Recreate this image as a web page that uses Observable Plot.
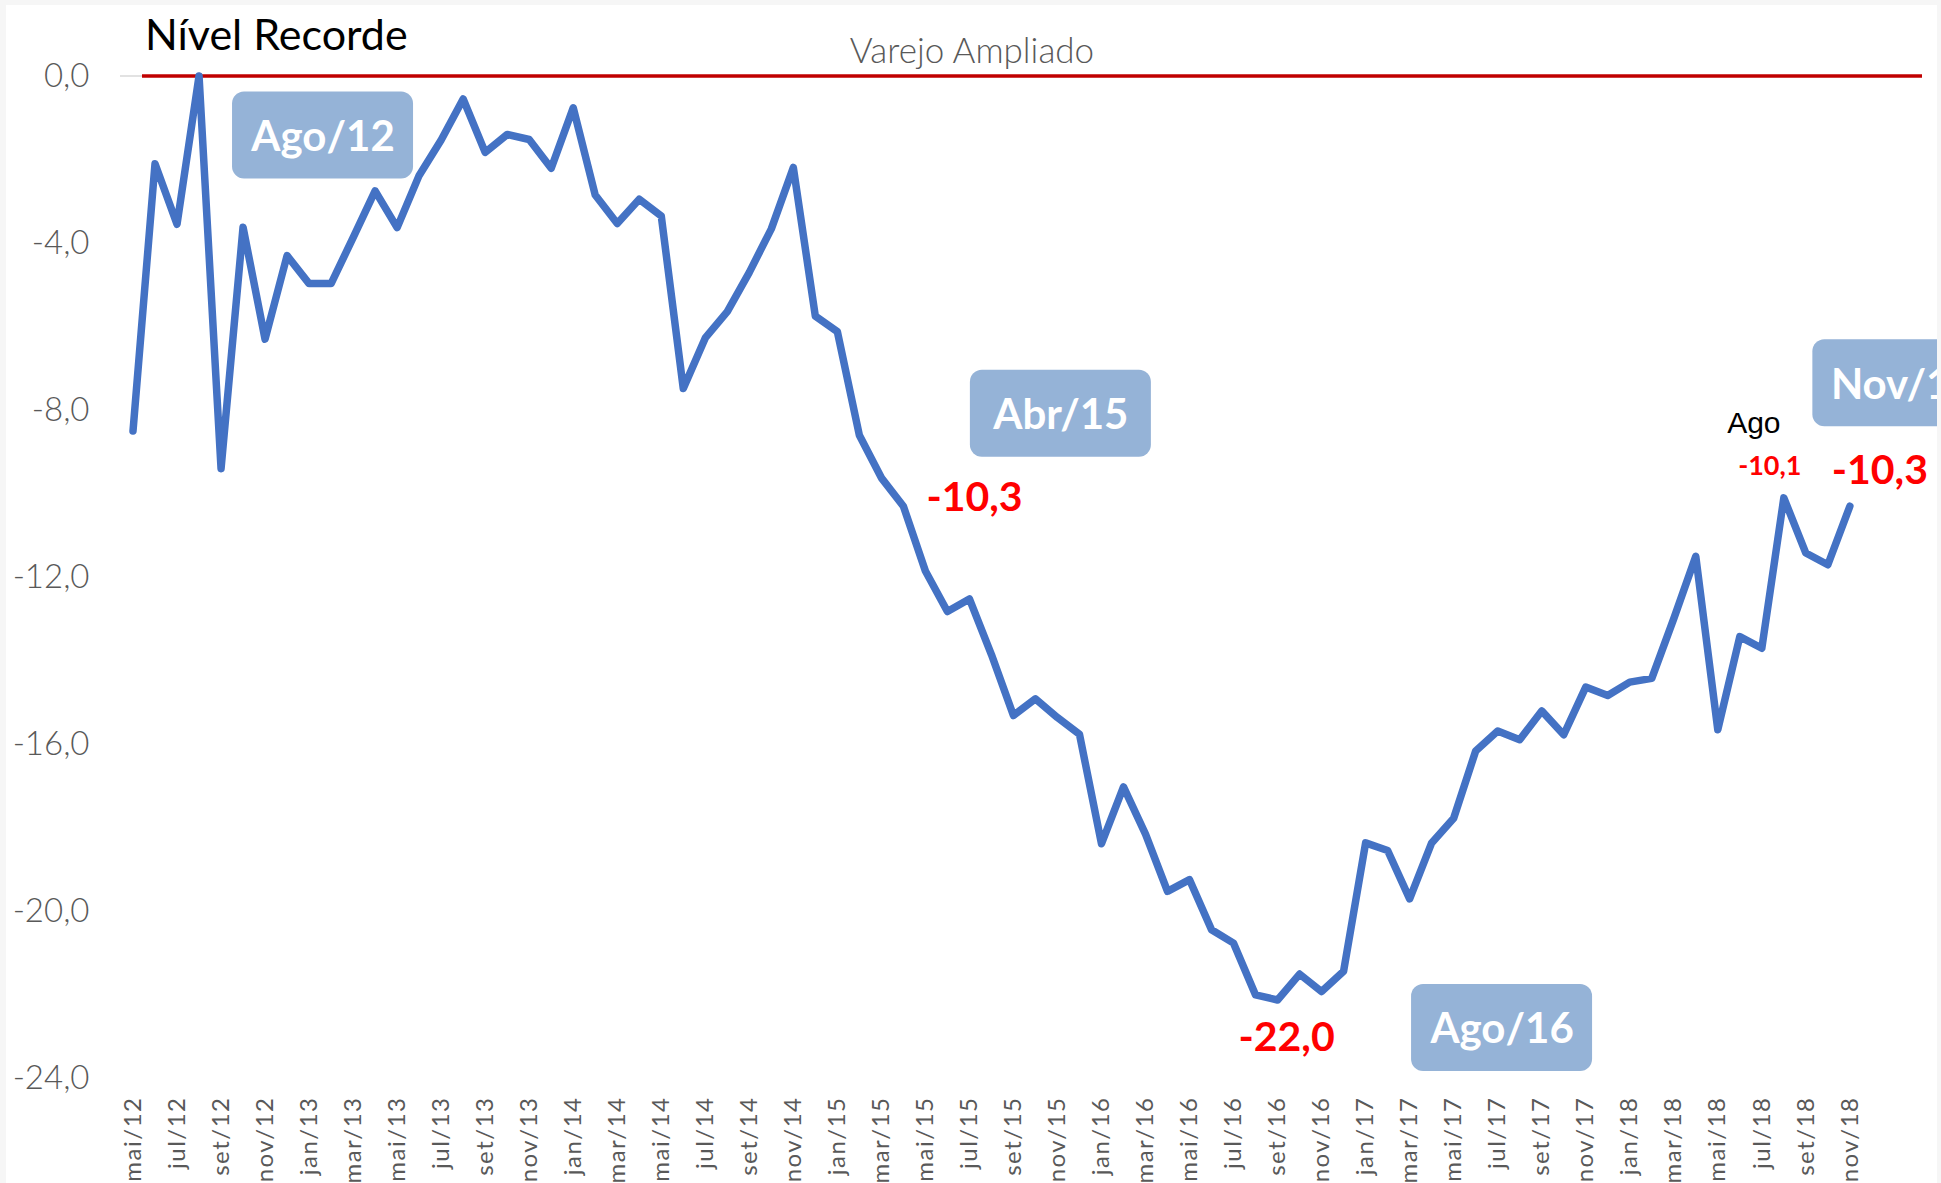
<!DOCTYPE html>
<html>
<head>
<meta charset="utf-8">
<script src="https://cdn.jsdelivr.net/npm/d3@7"></script>
<script src="https://cdn.jsdelivr.net/npm/@observablehq/plot@0.6"></script>
<style>
  html, body { margin: 0; padding: 0; background: #f6f6f6; }
  #chart { position: absolute; left: 6px; top: 5px; width: 1931px; height: 1178px; background: #fff; overflow: hidden; }
  #chart svg { display: block; }
</style>
</head>
<body>
<div id="chart"></div>
<script>
// ---- DATA ----
const months = [
  "mai/12","jun/12","jul/12","ago/12","set/12","out/12","nov/12","dez/12",
  "jan/13","fev/13","mar/13","abr/13","mai/13","jun/13","jul/13","ago/13","set/13","out/13","nov/13","dez/13",
  "jan/14","fev/14","mar/14","abr/14","mai/14","jun/14","jul/14","ago/14","set/14","out/14","nov/14","dez/14",
  "jan/15","fev/15","mar/15","abr/15","mai/15","jun/15","jul/15","ago/15","set/15","out/15","nov/15","dez/15",
  "jan/16","fev/16","mar/16","abr/16","mai/16","jun/16","jul/16","ago/16","set/16","out/16","nov/16","dez/16",
  "jan/17","fev/17","mar/17","abr/17","mai/17","jun/17","jul/17","ago/17","set/17","out/17","nov/17","dez/17",
  "jan/18","fev/18","mar/18","abr/18","mai/18","jun/18","jul/18","ago/18","set/18","out/18","nov/18"
];
const values = [
  -8.5, -2.1, -3.55, 0.0, -9.4, -3.62, -6.3, -4.3,
  -4.97, -4.97, -3.87, -2.75, -3.63, -2.38, -1.53, -0.55, -1.83, -1.4, -1.52, -2.21,
  -0.76, -2.85, -3.53, -2.95, -3.35, -7.48, -6.27, -5.64, -4.7, -3.66, -2.19, -5.75,
  -6.12, -8.6, -9.62, -10.3, -11.85, -12.82, -12.52, -13.85, -15.31, -14.91, -15.36, -15.76,
  -18.38, -17.02, -18.15, -19.52, -19.24, -20.44, -20.76, -22.0, -22.12, -21.5, -21.92, -21.43,
  -18.36, -18.54, -19.7, -18.36, -17.77, -16.16, -15.68, -15.89, -15.2, -15.77, -14.63, -14.83,
  -14.51, -14.42, -12.99, -11.5, -15.65, -13.42, -13.7, -10.1, -11.42, -11.7, -10.3
];
const xTickLabels = months.filter((m, i) => i % 2 === 0);
const yTicks = [0, -4, -8, -12, -16, -20, -24];
const title = "Nível Recorde";
const seriesName = "Varejo Ampliado";
const calloutMonths = ["ago/12", "abr/15", "ago/16", "nov/18"];
const valueLabelMonths = ["abr/15", "ago/16", "ago/18", "nov/18"];

// ---- BUILD ----
const data = months.map((m, i) => ({i, m, v: values[i]}));
const fmt = v => v.toFixed(1).replace(".", ",");
const cap = s => s[0].toUpperCase() + s.slice(1);
const at = m => data.filter(d => d.m === m);

const W = 1931, H = 1178;
const BLUE = "#4472C4", RED = "#FF0000", BOX = "#95B3D7";

function callout(month, dx, dy) {
  return Plot.text(at(month), {
    x: "i", y: "v", text: d => cap(d.m), dx, dy,
    fill: "white", fontWeight: "bold", fontSize: 42, textAnchor: "middle",
    fontFamily: "Lato, sans-serif", ariaLabel: () => "callout"
  });
}
function valueLabel(month, dx, dy, size, anchor = "middle") {
  return Plot.text(at(month), {
    x: "i", y: "v", text: d => fmt(d.v), dx, dy,
    fill: RED, fontWeight: "bold", fontSize: size, textAnchor: anchor,
    fontFamily: "Lato, sans-serif"
  });
}

const plot = Plot.plot({
  width: W, height: H,
  marginLeft: 114, marginRight: 15, marginTop: 70.5, marginBottom: 105,
  style: {background: "transparent", fontFamily: "Lato, sans-serif"},
  x: {
    type: "linear", domain: [-0.568, 81.30],
    ticks: xTickLabels.map(m => months.indexOf(m)),
    tickFormat: i => months[i], tickRotate: -90, tickSize: 0, tickPadding: 18, label: null
  },
  y: {domain: [-24, 0], ticks: yTicks, tickFormat: fmt, tickSize: 0, tickPadding: 31, label: null},
  marks: [
    Plot.ruleY([0], {stroke: "#d9d9d9", strokeWidth: 1.5}),
    Plot.ruleY([0], {stroke: "#C00000", strokeWidth: 3.5, insetLeft: 22}),
    Plot.line(data, {x: "i", y: "v", stroke: BLUE, strokeWidth: 7.5, strokeLinejoin: "round", strokeLinecap: "round"}),
    callout(calloutMonths[0], 124, 61.5),
    callout(calloutMonths[1], 157.5, -90.5),
    callout(calloutMonths[2], 246.5, 35),
    callout(calloutMonths[3], 53, -121),
    valueLabel(valueLabelMonths[0], 23, -8, 41, "start"),
    valueLabel(valueLabelMonths[1], 31, 43, 41),
    valueLabel(valueLabelMonths[2], -14, -32, 27),
    valueLabel(valueLabelMonths[3], 30, -35, 41),
    Plot.text(at("ago/18"), {x: "i", y: "v", text: d => cap(d.m).slice(0, 3), dx: -30, dy: -74,
      fill: "black", fontSize: 30, textAnchor: "middle", fontFamily: "'Liberation Sans', Arial, sans-serif"})
  ]
});

document.getElementById("chart").appendChild(plot);
const svg = d3.select(plot);

// axis text styling
svg.selectAll('g[aria-label^="y-axis"] text')
  .style("font-size", "33px").style("font-weight", "300").style("fill", "#595959")
  .style("font-family", "Lato, sans-serif");
svg.selectAll('g[aria-label^="x-axis"] text')
  .style("font-size", "24px").style("fill", "#595959").style("letter-spacing", "1.5px")
  .style("font-family", "Lato, sans-serif");

// callout boxes behind their labels
const svgRect = plot.getBoundingClientRect();
let calloutTexts = svg.selectAll('text[aria-label="callout"]');
if (calloutTexts.empty()) {
  calloutTexts = svg.selectAll("text").filter(function () {
    return calloutMonths.map(cap).includes(this.textContent);
  });
}
calloutTexts.each(function () {
  const r = this.getBoundingClientRect();
  const cx = r.left + r.width / 2 - svgRect.left;
  const cy = r.top + r.height / 2 - svgRect.top;
  const g = this.parentNode;
  const rect = document.createElementNS("http://www.w3.org/2000/svg", "rect");
  rect.setAttribute("x", cx - 90.5);
  rect.setAttribute("y", cy - 43.5);
  rect.setAttribute("width", 181);
  rect.setAttribute("height", 87);
  rect.setAttribute("rx", 12);
  rect.setAttribute("fill", BOX);
  g.parentNode.insertBefore(rect, g);
});

// titles
svg.append("text").text(title)
  .attr("x", 139).attr("y", 30).attr("dy", "0.35em").attr("text-anchor", "start")
  .style("font-family", "Lato, sans-serif").style("font-size", "43px").style("fill", "#000");
svg.append("text").text(seriesName)
  .attr("x", 966).attr("y", 46).attr("dy", "0.35em").attr("text-anchor", "middle")
  .style("font-family", "Lato, sans-serif").style("font-size", "35px").style("font-weight", "300")
  .style("fill", "#595959");
</script>
</body>
</html>
